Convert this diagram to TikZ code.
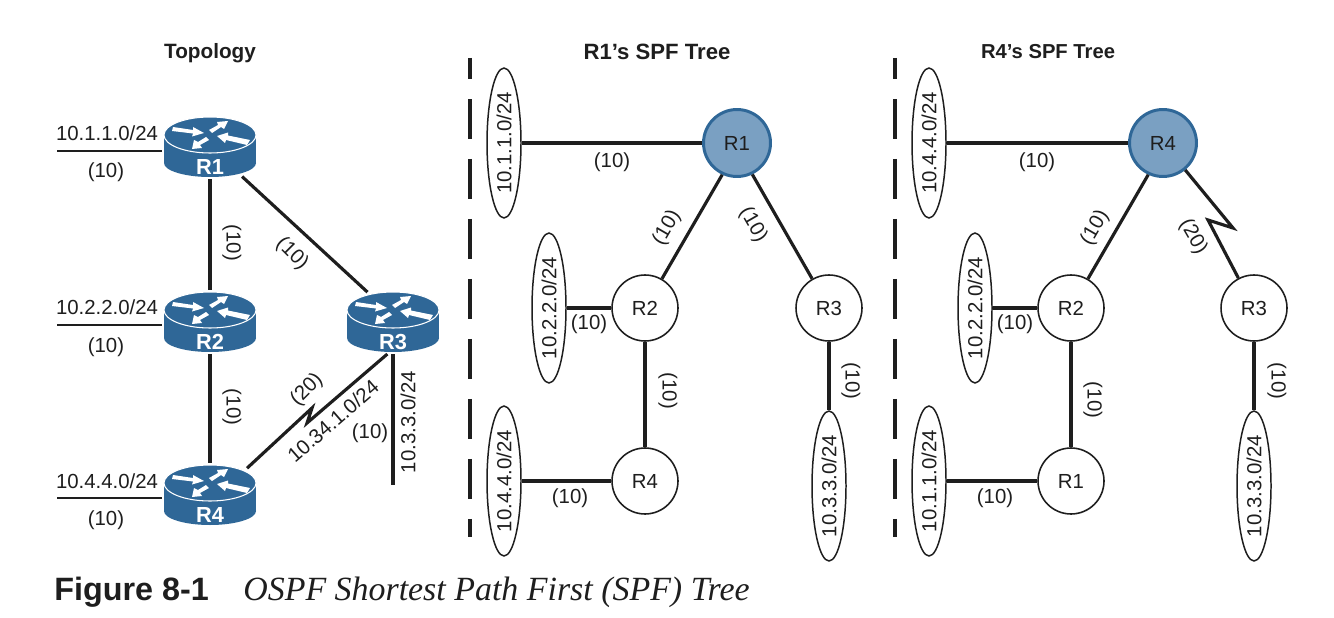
\documentclass[tikz,border=0pt]{standalone}
\usepackage{fontspec}
\setmainfont{Liberation Sans}
\newfontfamily\capserif{Liberation Serif}
\usepackage{xcolor}
\usetikzlibrary{shapes.geometric}
\definecolor{rtrblue}{HTML}{2F6797}
\definecolor{rootblue}{HTML}{7AA0C2}
\definecolor{inkline}{HTML}{1E1E1E}
\tikzset{
	txt/.style={font=\fontsize{11.6}{13}\selectfont, inner sep=0pt, text=inkline},
	ttl/.style={txt, font=\fontsize{12.6}{14}\selectfont\bfseries},
	rtr/.style={draw=none, ellipse, minimum width=92*0.569pt, minimum height=61*0.569pt, inner sep=0pt, outer sep=1pt},
	rtrtxt/.style={font=\fontsize{12.4}{14}\selectfont\bfseries, text=white, inner sep=0pt},
	lnk/.style={line width=1.8pt, draw=inkline},
	stub/.style={line width=0.9pt, draw=inkline},
	spf/.style={circle, draw=inkline, line width=0.9pt, fill=white, minimum size=66*0.569pt, inner sep=0pt, txt},
	root/.style={spf, draw=rtrblue, line width=1.7pt, fill=rootblue, minimum size=67*0.569pt},
	net/.style={ellipse, draw=inkline, line width=0.85pt, fill=white, rotate=90, minimum width=150*0.569pt, minimum height=34*0.569pt, inner sep=0pt, txt},
	sep/.style={line width=2.2pt, draw=inkline, dash pattern=on 22.76pt off 11.38pt, dash phase=10.8pt},
}
\begin{document}
\begin{tikzpicture}[x=0.02cm, y=-0.02cm]
	\useasboundingbox (0,0) rectangle (1334,618);
	% titles
	\node[ttl, font=\fontsize{11.8}{14}\selectfont\bfseries] (ttopo) at (210,53) {Topology};
	\node[ttl] (tr1) at (657,52) {R1’s SPF Tree};
	\node[ttl, font=\fontsize{11.5}{14}\selectfont\bfseries] (tr4) at (1048,52) {R4’s SPF Tree};
	% routers
	\foreach \nm/\lab/\px/\py in {r1/R1/210/147, r2/R2/210/322, r3/R3/393/322, r4/R4/210/495} {
		\begin{scope}[shift={(\px,\py)}]
			\fill[rtrblue] (0,16) ellipse [x radius=46, y radius=14];
			\fill[rtrblue] (-46,-12) rectangle (46,16);
			\draw[white, line width=0.6pt, fill=rtrblue] (0,-12) ellipse [x radius=46, y radius=18];
			\fill[white] (-37,-20) -- (-17,-17) -- (-17,-20) -- (-6,-14) -- (-18,-10.5) -- (-17,-13.5) -- (-38,-16) -- cycle;
			\fill[white] (-1,-17) -- (8,-22) -- (7,-25) -- (18,-26) -- (14,-18) -- (11,-20) -- (2,-14) -- cycle;
			\fill[white] (40,-7) -- (18,-11.5) -- (18,-14.5) -- (7,-11) -- (15,-4) -- (16,-7) -- (37,-2) -- cycle;
			\fill[white] (-4,-10) -- (-12,-5) -- (-16,-7) -- (-18,2) -- (-8,1) -- (-10,-2) -- (-1,-7) -- cycle;
		\end{scope}
		\node[rtr] (\nm) at (\px,\py) {};
		\node[rtrtxt] (\nm t) at (\px,\py+20) {\lab};
	}
	% topology links
	\coordinate (s1) at (57,151);
	\coordinate (s2) at (57,325);
	\coordinate (s4) at (57,498);
	\coordinate (s3) at (393,485);
	\coordinate (z1) at (312,408);
	\coordinate (z2) at (307,423);
	\draw[stub] (s1) -- (s1 -| r1.west);
	\draw[stub] (s2) -- (s2 -| r2.west);
	\draw[stub] (s4) -- (s4 -| r4.west);
	\draw[lnk] (r1) -- (r2);
	\draw[lnk, shorten <=3pt, shorten >=1.5pt] (r1) -- (r3.130);
	\draw[lnk] (r2) -- (r4);
	\draw[lnk, line join=miter, shorten <=3pt] (r4.35) -- (z1) -- (z2) -- (r3.260);
	\draw[lnk] (r3) -- (s3);
	\node[txt] (n1) at (107,133) {10.1.1.0/24};
	\node[txt] (n2) at (107,307) {10.2.2.0/24};
	\node[txt] (n4) at (107,481) {10.4.4.0/24};
	\node[txt] (c1) at (106,172) {(10)};
	\node[txt] (c2) at (106,347) {(10)};
	\node[txt] (c4) at (106,520) {(10)};
	\node[txt, rotate=-90] (c12) at (232,243) {(10)};
	\node[txt, rotate=-45] (c13) at (292,254) {(10)};
	\node[txt, rotate=-90] (c24) at (232,407) {(10)};
	\node[txt, rotate=45] (c34) at (307,390) {(20)};
	\node[txt, rotate=41] (n34) at (333,421) {10.34.1.0/24};
	\node[txt] (c3) at (370,433) {(10)};
	\node[txt, rotate=90] (n3) at (408,422) {10.3.3.0/24};
	% R1 tree
	\coordinate (d1a) at (470,58);
	\coordinate (d1b) at (470,537);
	\draw[sep] (d1a) -- (d1b);
	\node[root] (ar1) at (737,143) {R1};
	\node[spf] (ar2) at (645,308) {R2};
	\node[spf] (ar3) at (829,308) {R3};
	\node[spf] (ar4) at (645,481) {R4};
	\node[net] (an1) at (504,143) {10.1.1.0/24};
	\node[net] (an2) at (549,308) {10.2.2.0/24};
	\node[net] (an4) at (504,481) {10.4.4.0/24};
	\node[net] (an3) at (829,486) {10.3.3.0/24};
	\draw[lnk] (an1) -- (ar1);
	\draw[lnk] (ar1.245) -- (ar2);
	\draw[lnk] (ar1.-64) -- (ar3.120);
	\draw[lnk] (an2) -- (ar2);
	\draw[lnk] (ar2) -- (ar4);
	\draw[lnk] (an4) -- (ar4);
	\draw[lnk] (ar3) -- (an3);
	\node[txt] (ac1) at (612,162) {(10)};
	\node[txt, rotate=60] (ac2) at (667,228) {(10)};
	\node[txt, rotate=-60] (ac3) at (753,225) {(10)};
	\node[txt] (ac4) at (589,324) {(10)};
	\node[txt, rotate=-90] (ac5) at (668,391) {(10)};
	\node[txt, rotate=-90] (ac6) at (851,381) {(10)};
	\node[txt] (ac7) at (570,498) {(10)};
	% R4 tree
	\coordinate (d2a) at (895,58);
	\coordinate (d2b) at (895,537);
	\draw[sep] (d2a) -- (d2b);
	\node[root] (br4) at (1163,143) {R4};
	\node[spf] (br2) at (1071,308) {R2};
	\node[spf] (br3) at (1254,308) {R3};
	\node[spf] (br1) at (1071,481) {R1};
	\node[net] (bn4) at (929,143) {10.4.4.0/24};
	\node[net] (bn2) at (975,308) {10.2.2.0/24};
	\node[net] (bn1) at (929,481) {10.1.1.0/24};
	\node[net] (bn3) at (1254,486) {10.3.3.0/24};
	\coordinate (bz1) at (1233,228);
	\coordinate (bz2) at (1208,220);
	\draw[lnk] (bn4) -- (br4);
	\draw[lnk] (br4.245) -- (br2);
	\draw[lnk, line join=miter] (br4) -- (bz1) -- (bz2) -- (br3);
	\draw[lnk] (bn2) -- (br2);
	\draw[lnk] (br2) -- (br1);
	\draw[lnk] (bn1) -- (br1);
	\draw[lnk] (br3) -- (bn3);
	\node[txt] (bc1) at (1037,162) {(10)};
	\node[txt, rotate=60] (bc2) at (1095,228) {(10)};
	\node[txt, rotate=-60] (bc3) at (1193,237) {(20)};
	\node[txt] (bc4) at (1015,324) {(10)};
	\node[txt, rotate=-90] (bc5) at (1093,400) {(10)};
	\node[txt, rotate=-90] (bc6) at (1277,381) {(10)};
	\node[txt] (bc7) at (995,498) {(10)};
	% caption
	\node[anchor=base west, inner sep=0pt, font=\fontsize{18.4}{20}\selectfont\bfseries, text=inkline] (capa) at (54,600) {Figure 8-1};
	\node[anchor=base west, inner sep=0pt, font=\capserif\fontsize{19.3}{20}\selectfont\itshape, text=inkline] (capb) at (243,600) {OSPF Shortest Path First (SPF) Tree};
\end{tikzpicture}
\end{document}
